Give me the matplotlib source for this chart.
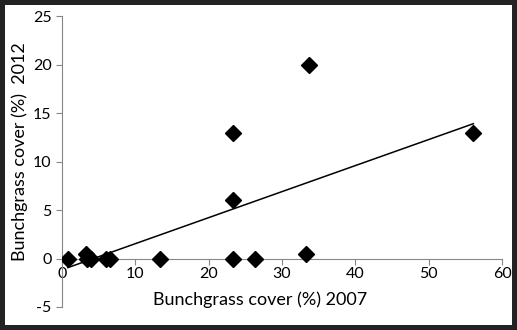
import numpy as np
import matplotlib
matplotlib.use("Agg")
import matplotlib.pyplot as plt

# bunchgrass cover (%)
cover_2007 = [0.8, 3.2, 3.4, 3.9, 6.0, 6.6, 13.4, 23.3, 23.3, 23.3, 26.3, 33.3, 33.7, 56.1]
cover_2012 = [0.0, 0.5, 0.0, 0.0, 0.0, 0.0, 0.0, 12.9, 6.0, 0.0, 0.0, 0.5, 19.9, 12.9]

x_ticks = [0, 10, 20, 30, 40, 50, 60]
y_ticks = [-5, 0, 5, 10, 15, 20, 25]

plt.rcParams['font.family'] = ['Lato', 'DejaVu Sans']
plt.rcParams['axes.unicode_minus'] = False

x = np.array(cover_2007)
y = np.array(cover_2012)

fig = plt.figure(figsize=(5.17, 3.30), dpi=100)
fig.patch.set_facecolor('white')
fig.patch.set_edgecolor('#222222')
fig.patch.set_linewidth(6)

ax = fig.add_axes([0.12, 0.0697, 0.851, 0.8818])

ax.plot(x, y, 'D', color='black', markersize=8.5, zorder=3)

# linear trendline over the range of the data
slope, icpt = np.polyfit(x, y, 1)
xl = np.array([x.min(), x.max()])
ax.plot(xl, slope * xl + icpt, color='black', linewidth=1.1, zorder=2)

ax.set_xlim(0, 60)
ax.set_ylim(-5, 25)
ax.set_xticks(x_ticks)
ax.set_yticks(y_ticks)

gray = '#868686'
ax.spines['top'].set_visible(False)
ax.spines['right'].set_visible(False)
ax.spines['bottom'].set_position(('data', 0))
ax.spines['left'].set_color(gray)
ax.spines['bottom'].set_color(gray)
ax.tick_params(axis='both', colors=gray, labelcolor='black', labelsize=11.5,
               length=4, width=0.8, direction='out')
ax.tick_params(axis='x', pad=2)

fig.text(260 / 517, 1 - 300 / 330, 'Bunchgrass cover (%) 2007', ha='center', va='center',
         fontsize=13)
fig.text(20 / 517, 1 - 152 / 330, 'Bunchgrass cover (%)  2012', ha='center', va='center',
         rotation=90, fontsize=13)

fig.savefig('out.png', dpi=100, facecolor=fig.get_facecolor(), edgecolor=fig.get_edgecolor())
